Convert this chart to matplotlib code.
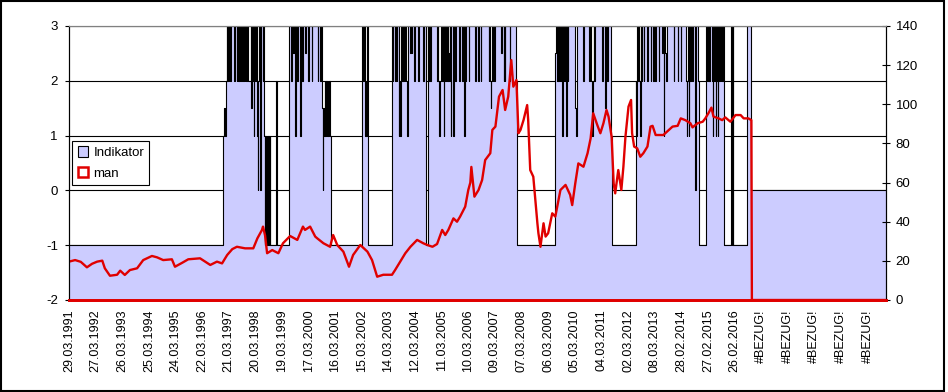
import numpy as np
import matplotlib
matplotlib.use("Agg")
import matplotlib.pyplot as plt
from matplotlib.patches import Patch, Rectangle

plt.rcParams['font.family'] = ['Liberation Sans', 'DejaVu Sans']
plt.rcParams['axes.unicode_minus'] = False

# weekly category axis, one label every 52 weeks
n_weeks = 1596
tick_labels = ["29.03.1991", "27.03.1992", "26.03.1993", "25.03.1994", "24.03.1995",
               "22.03.1996", "21.03.1997", "20.03.1998", "19.03.1999", "17.03.2000",
               "16.03.2001", "15.03.2002", "14.03.2003", "12.03.2004", "11.03.2005",
               "10.03.2006", "09.03.2007", "07.03.2008", "06.03.2009", "05.03.2010",
               "04.03.2011", "02.03.2012", "08.03.2013", "28.02.2014", "27.02.2015",
               "26.02.2016", "#BEZUG!", "#BEZUG!", "#BEZUG!", "#BEZUG!", "#BEZUG!"]

# Indikator: week where a new level starts, and the level
ind_weeks = [0, 300, 302, 304, 306, 308, 309, 310, 312, 313, 315, 316, 323, 324,
             328, 329, 330, 332, 333, 335, 336, 338, 339, 341, 343, 344, 346, 347, 349,
             355, 356, 358, 359, 361, 362, 364, 366, 367, 369, 370, 371, 373, 375, 376,
             378, 379, 380, 382, 383, 384, 386, 387, 388, 390, 392, 393, 405, 407,
             429, 434, 435, 438, 439, 442, 443, 446, 447, 452, 453, 456, 457, 461, 462,
             467, 468, 474, 475, 486, 487, 491, 492, 495, 496, 497, 499, 500, 501, 502,
             504, 505, 506, 508, 510, 512,
             573, 575, 576, 579, 580, 581, 583, 585,
             631, 632, 633, 637, 639, 640, 641, 644, 645, 646, 648, 649, 650, 652, 653,
             654, 656, 657, 659, 661, 662, 667, 668, 670, 671, 674, 676, 682, 684, 692,
             693, 697, 701, 702, 704, 706, 707, 719, 720, 721, 722, 725, 727, 729, 730,
             732, 733, 735, 736, 739, 740, 741, 742, 744, 745, 746, 747, 750, 751, 752,
             755, 756, 762, 763, 768, 769, 770, 771, 773, 774, 776, 781, 782, 794, 795,
             799, 800, 804, 805, 820, 821, 823, 824, 825, 827, 828, 829, 831, 833, 844,
             845, 849, 850, 851, 852, 861, 862, 873, 875,
             950, 952, 953, 955, 956, 958, 960, 961, 964, 965, 966, 968, 970, 972, 974,
             975, 989, 990, 992, 1005, 1007, 1015, 1017, 1020, 1021, 1022, 1024, 1025,
             1026, 1028, 1041, 1043, 1047, 1048, 1049, 1050, 1052, 1059, 1061,
             1107, 1108, 1109, 1110, 1112, 1113, 1114, 1116, 1118, 1119, 1120, 1123,
             1124, 1129, 1131, 1136, 1137, 1140, 1142, 1144, 1146, 1152, 1153, 1159,
             1160, 1162, 1163, 1165, 1167, 1168, 1181, 1182, 1189, 1190, 1195, 1196,
             1206, 1207, 1208, 1209, 1211, 1212, 1213, 1214, 1216, 1217, 1218, 1222,
             1224, 1228, 1230,
             1245, 1246, 1247, 1249, 1250, 1251, 1253, 1256, 1258, 1259, 1260, 1261,
             1263, 1264, 1265, 1267, 1268, 1269, 1271, 1273, 1274, 1276, 1277, 1279,
             1294, 1295, 1297, 1298, 1325, 1333]
ind_vals = [-1, 1, 1.5, 1, 2, 3, 2, 3, 2, 3, 2, 3, 2, 3,
            2, 3, 2, 3, 2, 3, 2, 3, 2, 3, 2, 3, 2, 3, 2,
            3, 1.5, 3, 2, 1, 3, 2, 3, 1, 0, 2, 3, 0, 2, 3,
            2, 3, 1, -1, 1, -1, 1, -1, 1, -1, 1, -1, 2, -1,
            3, 2, 3, 2.5, 3, 1, 3, 2, 3, 1, 3, 2, 3, 2.5, 3,
            2, 3, 2, 3, 2, 3, 2, 3, 1.5, 0, 1.5, 1, 2, 1, 2,
            1, 2, 1, 2, 1, -1,
            3, 2, 3, 1, 2, 1, 3, -1,
            3, 2, 3, 2, 3, 2, 3, 1, 2, 1, 2, 3, 2, 3, 2,
            3, 2, 3, 2, 1, 3, 2.5, 3, 2.5, 3, 2, 3, 2, 3, 2,
            3, -1, 3, 2, 3, 2, 3, 2, 3, 2, 1, 2, 3, 2, 3,
            1, 3, 2, 3, 2, 3, 2, 2.5, 3, 2, 1, 3, 2, 1, 3,
            2, 3, 2, 3, 2, 2.5, 3, 1, 3, 2, 3, 2, 3, 2, 3,
            2, 3, 2, 3, 2, 3, 2, 1.5, 2, 3, 2, 3, 2, 3, 2.5,
            3, 2, 3, 2, 3, 2, 3, 2, -1,
            2.5, 3, 2, 3, 2, 3, 2, 3, 1, 3, 2, 3, 1, 3, 2,
            3, 1.5, 1, 3, 2, 3, 2, 3, 2, 1.5, 1, 2, 3,
            2, 3, 2, 3, 2, 1.5, 3, 2, 3, 1, -1,
            2, 1, 2, 3, 2, 3, 2, 1, 3, 2, 3, 2,
            3, 2, 3, 2, 3, 2, 3, 2, 3, 2, 3, 2.5,
            3, 1, 3, 2.5, 2, 3, 2, 3, 2, 3, 2, 3,
            2, 1, 2, 3, 1, 2, 3, 2, 3, 2, 3, 0,
            3, 2, -1,
            3, 2, 3, 2, 3, 2, 3, 2, 1, 3, 2, 3,
            1, 2, 3, 1, 3, 2, 3, 2, 3, 2, 3, -1,
            3, -1, 3, -1, 3, 0]

# man (right axis): week and value
man_weeks = [0, 12, 23, 35, 45, 55, 65, 70, 80, 94, 100, 109, 119, 133, 145, 162,
             172, 184, 201, 207, 221, 233, 256, 276, 289, 299, 309, 319, 328, 344,
             360, 368, 377, 379, 383, 387, 397, 409, 418, 432, 446, 457, 461, 471,
             481, 485, 497, 510, 516, 524, 536, 547, 555, 569, 583, 592, 602, 614,
             631, 637, 647, 657, 667, 680, 692, 700, 710, 719, 729, 735, 741, 751,
             758, 764, 774, 780, 784, 786, 792, 800, 807, 813, 823, 827, 833, 840,
             847, 852, 858, 864, 868, 874, 878, 882, 888, 895, 897, 901, 907, 911,
             915, 917, 921, 927, 931, 936, 944, 950, 960, 970, 979, 983, 989, 995,
             1005, 1013, 1019, 1024, 1032, 1038, 1044, 1050, 1054, 1060, 1064, 1067,
             1073, 1079, 1083, 1087, 1093, 1098, 1100, 1104, 1110, 1116, 1122, 1130,
             1136, 1140, 1146, 1155, 1161, 1175, 1179, 1189, 1195, 1204, 1214, 1218,
             1228, 1238, 1243, 1249, 1255, 1259, 1269, 1276, 1282, 1292, 1302, 1312,
             1318, 1327, 1333, 1334, 1596]
man_vals = [19.6, 20.4, 19.5, 16.7, 18.5, 19.6, 20.1, 16.2, 12.4, 12.9, 15, 12.8,
            15.3, 16.2, 20.4, 22.5, 21.8, 20.4, 20.8, 17, 19, 20.8, 21.3, 17.9, 19.6,
            18.7, 23, 26, 27.2, 26.4, 26.4, 31.5, 35.8, 37.5, 33, 23.9, 25.5, 23.9,
            29, 32.7, 30.7, 37.5, 35.8, 37.5, 32.4, 31.5, 29, 27.2, 33.2, 28.1, 24.7,
            17, 23, 28.1, 24.7, 20.4, 11.9, 12.9, 12.9, 15.3, 19.6, 23.9, 27.2, 30.7,
            29, 28.1, 27.2, 28.6, 35.8, 33.2, 35.8, 41.7, 40, 42.6, 47.7, 56.2, 60,
            68, 52.8, 56.2, 61.3, 71.5, 75, 86.9, 88.6, 103.9, 107.3, 97.1, 103.9,
            122.6, 109, 112.4, 85.2, 86.9, 92, 99.6, 92, 66.4, 63, 51.1, 39.2, 34.1,
            27.2, 39.2, 32.4, 34.1, 44.3, 42.6, 56.2, 58.8, 53.7, 48.5, 59.6, 69.8,
            68.1, 75, 82.6, 95.4, 89.4, 85.2, 90.3, 97.1, 93.7, 83.4, 59.6, 54.5,
            66.4, 56.2, 68.1, 83.4, 98.8, 102.2, 85.2, 78.4, 77.5, 73.2, 75, 78.4,
            88.6, 89, 84.3, 84.3, 84.3, 87.7, 88.6, 89, 92.8, 91.9, 90.3, 88.2,
            90.3, 91.1, 92.8, 95.4, 98.3, 93.7, 92.8, 91.9, 93.3, 91.1, 94.5, 94.5,
            92.8, 92.8, 91.9, 0, 0]

fig = plt.figure(figsize=(9.48, 3.92), dpi=100)
ax = fig.add_axes([69 / 948, 1 - 300 / 392, 817 / 948, 274 / 392])
ax2 = ax.twinx()

xs = np.append(ind_weeks, n_weeks)
ys = np.append(ind_vals, ind_vals[-1])
ax.fill_between(xs, -2, ys, step='post', color='#ccccff', lw=0, zorder=2)
ax.step(xs, ys, where='post', color='black', lw=0.8, zorder=3)

ax2.plot(man_weeks, man_vals, color='#e00000', lw=1.7)

ax.set_xlim(0, n_weeks)
ax.set_ylim(-2, 3)
ax2.set_ylim(0, 140)
ax.set_yticks(range(-2, 4))
ax2.set_yticks(range(0, 141, 20))

ax.set_axisbelow(True)
ax.grid(axis='y', color='black', lw=0.8)
ax.grid(axis='x', visible=False)

ax.set_xticks(np.arange(len(tick_labels)) * 52)
ax.set_xticklabels(tick_labels, rotation=90, fontsize=9, va='top', ha='center')
ax.tick_params(axis='x', length=0, pad=7)
ax.tick_params(axis='y', length=3, width=0.8, pad=5, labelsize=9.5)
ax2.tick_params(axis='y', direction='inout', length=6, width=0.8, pad=4, labelsize=9.5)

for a in (ax, ax2):
    a.spines['top'].set_color('#808080')
    a.spines['left'].set_color('black')
    a.spines['right'].set_color('black')
    a.spines['bottom'].set_color('#e00000')
    a.spines['bottom'].set_linewidth(2)

handles = [Patch(facecolor='#ccccff', edgecolor='black', lw=0.8),
           Patch(facecolor='white', edgecolor='#e00000', lw=1.8)]
leg = ax2.legend(handles, ['Indikator', 'man'], loc='lower left',
                 bbox_to_anchor=(0.004, 0.42), fontsize=9.5, fancybox=False,
                 framealpha=1, edgecolor='black', handlelength=0.8,
                 handleheight=0.8, handletextpad=0.4, borderpad=0.4,
                 labelspacing=0.6, borderaxespad=0)
leg.get_frame().set_linewidth(0.8)

fig.patches.append(Rectangle((1 / 948, 1 / 392), 943 / 948, 390 / 392,
                             transform=fig.transFigure, fill=False,
                             edgecolor='black', lw=1.5))

fig.savefig('out.png', dpi=100)
